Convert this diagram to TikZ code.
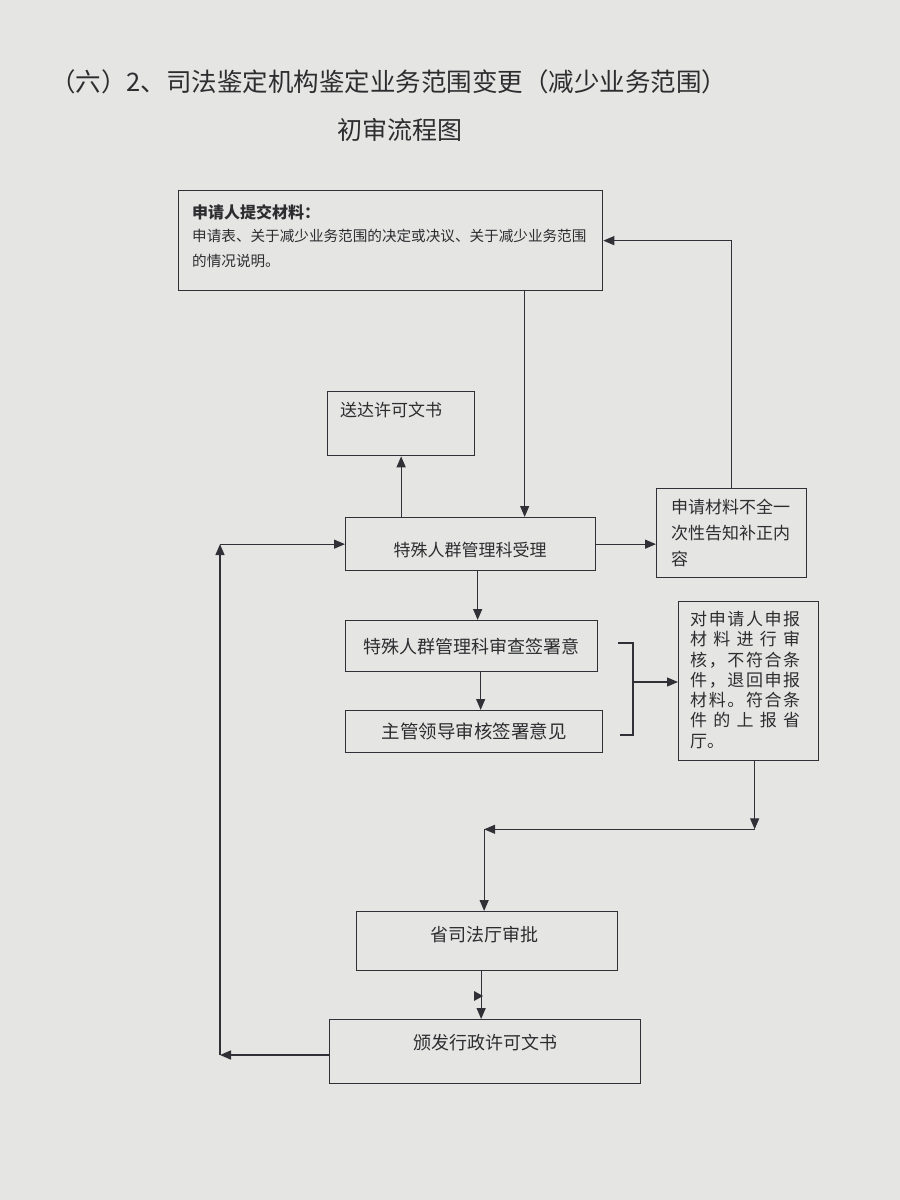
\documentclass[tikz,border=0pt]{standalone}
\usepackage{fontspec}
\setmainfont{Noto Sans CJK SC}
\usetikzlibrary{arrows.meta}
\definecolor{bg}{RGB}{229,230,228}
\definecolor{ink}{RGB}{48,48,54}
\definecolor{txtc}{RGB}{45,45,48}
\begin{document}
\begin{tikzpicture}[x=1pt,y=-1pt,
  box/.style={draw=ink, line width=1.3pt, inner sep=0pt, anchor=north west},
  txt/.style={inner sep=0pt, text=txtc},
  arr/.style={draw=ink, line width=1.3pt, -{Triangle[length=11pt,width=9pt]}},
  ln/.style={draw=ink, line width=1.3pt}]
\fill[bg] (0,0) rectangle (900,1200);
\useasboundingbox (0,0) rectangle (900,1200);
% title
\node[txt, anchor=west, font=\fontsize{25.5}{30}\selectfont] (t1) at (50,82) {（六）2、司法鉴定机构鉴定业务范围变更（减少业务范围）};
\node[txt, font=\fontsize{25}{30}\selectfont] (t2) at (400,130) {初审流程图};
% boxes
\node[box, minimum width=424pt, minimum height=100pt] (A) at (178,190) {};
\node[txt, anchor=west, font=\fontsize{16}{20}\selectfont\bfseries] (Ah) at (192,212) {申请人提交材料：};
\node[txt, anchor=north west, align=left, font=\fontsize{14.6}{25}\selectfont] (At) at (192,229) {申请表、关于减少业务范围的决定或决议、关于减少业务范围\\的情况说明。};
\node[box, minimum width=147pt, minimum height=64pt] (B) at (327,391) {};
\node[txt, anchor=west, font=\fontsize{17}{20}\selectfont] (Bt) at (340,410) {送达许可文书};
\node[box, minimum width=250pt, minimum height=53pt] (C) at (345,517) {};
\node[txt, font=\fontsize{17}{20}\selectfont] (Ct) at (470,550) {特殊人群管理科受理};
\node[box, minimum width=150pt, minimum height=89pt] (D) at (656,488) {};
\node[txt, anchor=north west, align=left, font=\fontsize{17}{26}\selectfont] (Dt) at (671,499) {申请材料不全一\\次性告知补正内\\容};
\node[box, minimum width=252pt, minimum height=51pt, font=\fontsize{18}{20}\selectfont, text=txtc] (E) at (345,620) {特殊人群管理科审查签署意};
\node[box, minimum width=257pt, minimum height=42pt, font=\fontsize{18.5}{20}\selectfont, text=txtc] (F) at (345,710) {主管领导审核签署意见};
\node[box, minimum width=140pt, minimum height=159pt] (G) at (678,601) {};
\node[txt, anchor=north west, align=left, font=\fontsize{17}{20.3}\selectfont] (Gt) at (690,611) {%
\makebox[110pt][s]{对\hfill 申\hfill 请\hfill 人\hfill 申\hfill 报}\\
\makebox[110pt][s]{材\hfill 料\hfill 进\hfill 行\hfill 审}\\
\makebox[110pt][s]{核\hfill ，\hfill 不\hfill 符\hfill 合\hfill 条}\\
\makebox[110pt][s]{件\hfill ，\hfill 退\hfill 回\hfill 申\hfill 报}\\
\makebox[110pt][s]{材\hfill 料\hfill 。\hfill 符\hfill 合\hfill 条}\\
\makebox[110pt][s]{件\hfill 的\hfill 上\hfill 报\hfill 省}\\
厅。};
\node[box, minimum width=261pt, minimum height=59pt] (H) at (356,911) {};
\node[txt, font=\fontsize{18}{20}\selectfont] (Ht) at (484,935) {省司法厅审批};
\node[box, minimum width=311pt, minimum height=64pt] (I) at (329,1019) {};
\node[txt, font=\fontsize{18}{20}\selectfont] (It) at (485,1043) {颁发行政许可文书};
% connectors
\draw[arr] ([xshift=134pt]A.south) -- ([xshift=54pt]C.north);
\draw[arr] (C.north -| B.south) -- (B.south);
\draw[arr] (C.east) -- (C.east -| D.west);
\coordinate (c5) at (D.north |- A.east);
\draw[ln] (D.north) -- (c5);
\draw[arr] (c5) -- (A.east);
\draw[arr] ([xshift=7pt]C.south) -- ([xshift=7pt]C.south |- E.north);
\draw[arr] ([xshift=9pt]E.south) -- ([xshift=9pt]E.south |- F.north);
% bracket
\coordinate (br1) at (618,643);
\coordinate (br2) at (633,643);
\coordinate (br3) at (633,735);
\coordinate (br4) at (620,735);
\draw[ln] (br1) -- (br2) -- (br3) -- (br4);
\coordinate (bm) at (633,682);
\draw[arr] (bm) -- (bm -| G.west);
% G -> H
\coordinate (g0) at ([xshift=6pt]G.south);
\coordinate (g1) at ([yshift=-68pt]g0);
\coordinate (hx) at ([xshift=-3pt]H.north);
\coordinate (g2) at (g1 -| hx);
\draw[arr] (g0) -- (g1);
\draw[arr] (g1) -- (g2);
\draw[arr] (g2) -- (hx);
% H -> I
\draw[arr] ([xshift=-6pt]H.south) -- ([xshift=-6pt]H.south |- I.north);
\fill[ink] (474,991) -- (483,996) -- (474,1001) -- cycle;
% I -> C feedback
\coordinate (c3) at (220,1055);
\coordinate (c4) at (c3 |- C.west);
\draw[arr, line width=1.6pt] (I.west |- c3) -- (c3);
\draw[arr, line width=1.6pt] (c3) -- (c4);
\draw[arr] (c4) -- (C.west);
\end{tikzpicture}
\end{document}
